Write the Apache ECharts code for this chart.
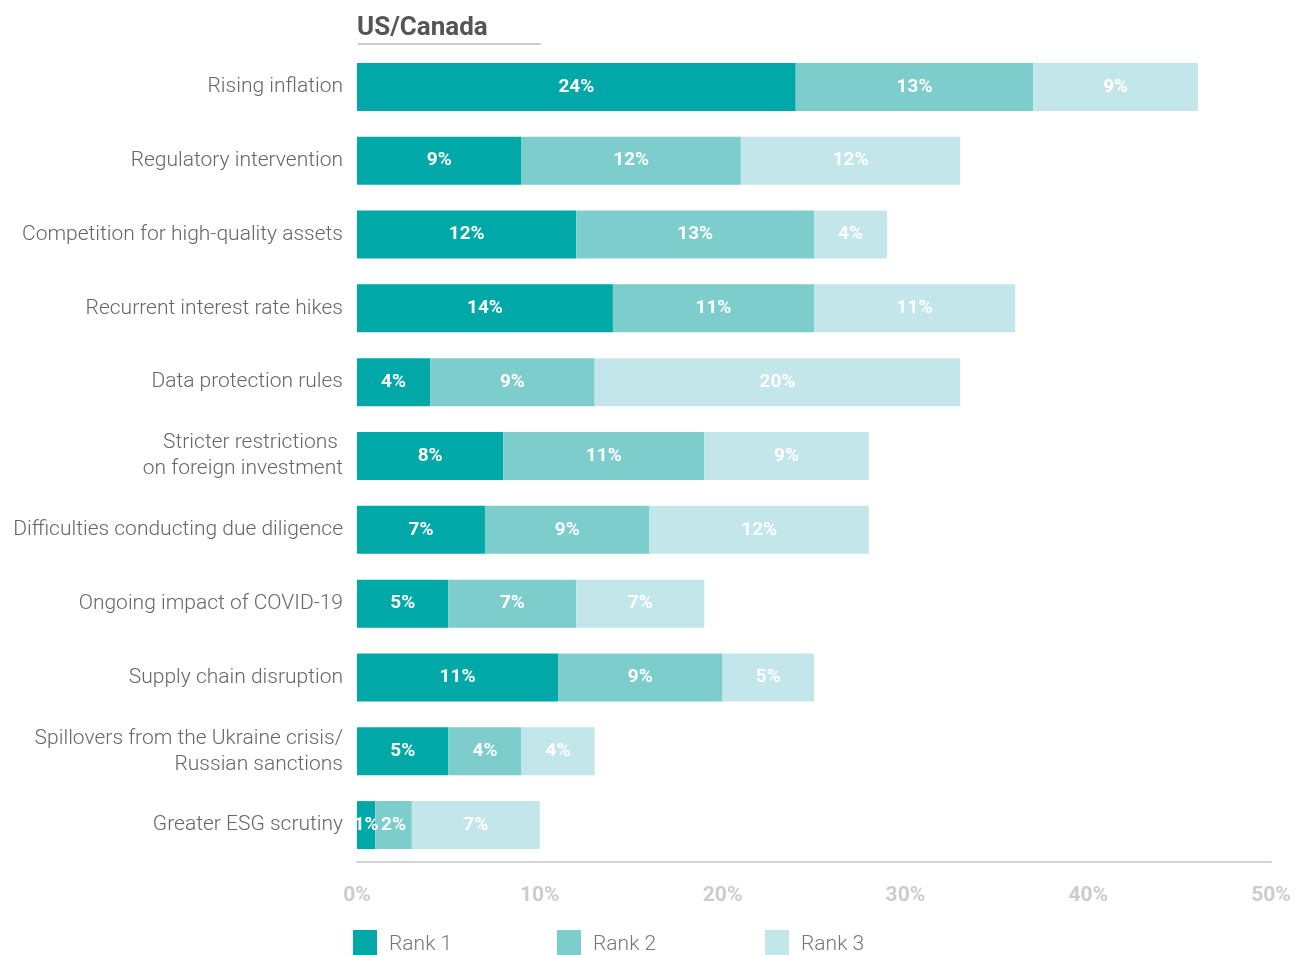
<!DOCTYPE html>
<html>
<head>
<meta charset="utf-8">
<script src="https://cdn.jsdelivr.net/npm/echarts@6/dist/echarts.min.js"></script>
<style>
  html, body { margin: 0; padding: 0; background: #fff; }
  #chart { width: 1297px; height: 955px; }
</style>
</head>
<body>
<div id="chart"></div>
<script>
// Risk categories, top to bottom
const categories = [
  'Rising inflation',
  'Regulatory intervention',
  'Competition for high-quality assets',
  'Recurrent interest rate hikes',
  'Data protection rules',
  'Stricter restrictions \non foreign investment',
  'Difficulties conducting due diligence',
  'Ongoing impact of COVID-19',
  'Supply chain disruption',
  'Spillovers from the Ukraine crisis/\nRussian sanctions',
  'Greater ESG scrutiny'
];
// Share of respondents (%) ranking each risk 1st, 2nd, 3rd
const rank1 = [24, 9, 12, 14, 4, 8, 7, 5, 11, 5, 1];
const rank2 = [13, 12, 13, 11, 9, 11, 9, 7, 9, 4, 2];
const rank3 = [9, 12, 4, 11, 20, 9, 12, 7, 5, 4, 7];
const seriesNames = ['Rank 1', 'Rank 2', 'Rank 3'];
const colors = ['#00A9A8', '#7DCDCC', '#C3E6EA'];

const chart = echarts.init(document.getElementById('chart'), null, { renderer: 'canvas' });

const makeSeries = (name, data, color) => ({
  name: name,
  type: 'bar',
  stack: 'total',
  barWidth: 48,
  data: data,
  itemStyle: { color: color },
  label: {
    show: true,
    position: 'inside',
    formatter: p => p.value + '%',
    color: '#fff',
    fontFamily: 'Roboto',
    fontWeight: 'bold',
    fontSize: 19
  },
  emphasis: { disabled: true }
});

// Legend swatches run off the bottom edge of the canvas
const legendItem = (name, left) => ({
  data: [name],
  left: left,
  top: 930,
  padding: 0,
  itemWidth: 24,
  itemHeight: 29,
  icon: 'rect',
  textStyle: {
    color: '#777', fontSize: 21, fontFamily: 'Roboto', fontWeight: 300,
    padding: [0, 0, 0, 7]
  }
});

chart.setOption({
  animation: false,
  title: {
    text: 'US/Canada',
    left: 352,
    top: 10,
    textStyle: { color: '#555', fontSize: 26, fontWeight: 'bold', fontFamily: 'Roboto' }
  },
  graphic: [{
    type: 'line',
    shape: { x1: 358, y1: 44, x2: 541, y2: 44 },
    style: { stroke: '#ccc', lineWidth: 2 }
  }],
  legend: [
    legendItem('Rank 1', 353),
    legendItem('Rank 2', 557),
    legendItem('Rank 3', 765)
  ],
  grid: { left: 357, right: 26, top: 50, bottom: 93 },
  xAxis: {
    type: 'value',
    min: 0,
    max: 50,
    interval: 10,
    axisLine: { show: true, lineStyle: { color: '#d4d4d4', width: 2 } },
    axisTick: { show: false },
    splitLine: { show: false },
    axisLabel: {
      formatter: '{value}%',
      color: '#cccccc',
      fontSize: 21,
      fontWeight: 'bold',
      fontFamily: 'Roboto',
      margin: 23
    }
  },
  yAxis: {
    type: 'category',
    inverse: true,
    data: categories,
    axisLine: { show: false },
    axisTick: { show: false },
    axisLabel: {
      color: '#666',
      fontSize: 21,
      fontWeight: 300,
      fontFamily: 'Roboto',
      lineHeight: 26,
      margin: 14,
      align: 'right'
    }
  },
  series: [
    makeSeries(seriesNames[0], rank1, colors[0]),
    makeSeries(seriesNames[1], rank2, colors[1]),
    makeSeries(seriesNames[2], rank3, colors[2])
  ]
});
</script>
</body>
</html>
